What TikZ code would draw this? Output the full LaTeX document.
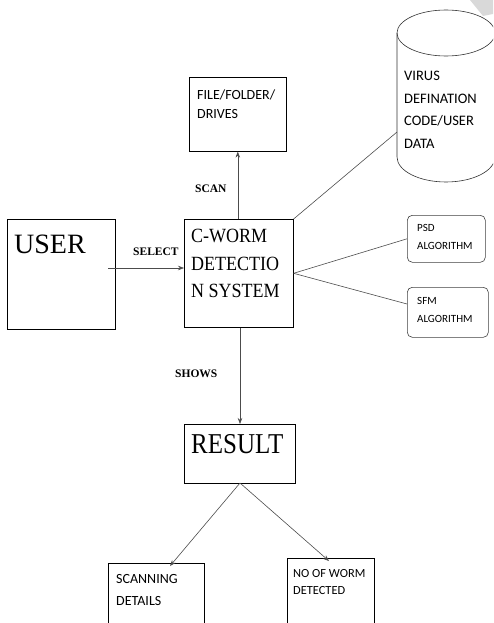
\documentclass[tikz,border=0pt]{standalone}
\usepackage{fontspec}
\setmainfont{Liberation Serif}
\newfontfamily\calfont{Carlito}
\usetikzlibrary{arrows.meta}
\tikzset{
  box/.style={draw=black, line width=0.6pt, rectangle, anchor=north west, inner sep=0pt},
  rbox/.style={box, draw=black!75, rounded corners=5pt},
  conn/.style={draw=black!70, line width=0.6pt},
  arr/.style={conn, -{Stealth[length=6pt,width=4.5pt]}},
  txt/.style={anchor=north west, inner sep=0pt, align=left},
  lbl/.style={anchor=base west, inner sep=0pt, font=\fontsize{11.5}{13}\selectfont\bfseries},
}
\begin{document}
\begin{tikzpicture}[x=1pt,y=-1pt]
\useasboundingbox (0,0) rectangle (493,623);
\clip (0,0) rectangle (493,623);
% corner artifact
\fill[black!15] (470,0) -- (493,0) -- (493,14) -- (483,16) -- cycle;
% cylinder
\draw[line width=0.6pt, black!80] (397,33) -- (397,157) arc[start angle=180, end angle=0, x radius=49, y radius=25] -- (495,33);
\draw[line width=0.6pt, black!80] (446,33) ellipse[x radius=49, y radius=23];
\coordinate (cyl) at (397,132);
% boxes
\node[box, minimum width=97pt, minimum height=74pt] (file) at (189,77) {};
\node[box, minimum width=108pt, minimum height=110pt] (user) at (7,219) {};
\node[box, minimum width=109pt, minimum height=108pt] (cworm) at (184,219) {};
\node[rbox, minimum width=78pt, minimum height=47pt] (psd) at (407,215) {};
\node[rbox, minimum width=81pt, minimum height=50pt] (sfm) at (407,287) {};
\node[box, minimum width=111pt, minimum height=59pt] (result) at (184,424) {};
\node[box, minimum width=96pt, minimum height=80pt] (scan) at (108,563) {};
\node[box, minimum width=87pt, minimum height=80pt] (worm) at (287,558) {};
% texts
\node[txt, font=\calfont\fontsize{14}{19}\selectfont] (filet) at (197,90) {FILE/FOLDER/\\DRIVES};
\node[txt, font=\calfont\fontsize{14.5}{22.5}\selectfont] (cylt) at (404,71) {VIRUS\\DEFINATION\\CODE/USER\\DATA};
\node[anchor=base west, inner sep=0pt, font=\fontsize{28}{30}\selectfont] (usert) at (14,253) {USER};
\node[txt, font=\fontsize{18}{27.5}\selectfont] (cwormt) at (191,229) {\scalebox{1}[1.12]{C-WORM}\\\scalebox{1}[1.12]{DETECTIO}\\\scalebox{1}[1.12]{N SYSTEM}};
\node[txt, font=\calfont\fontsize{11}{18}\selectfont] (psdt) at (417,224) {PSD\\ALGORITHM};
\node[txt, font=\calfont\fontsize{11}{18}\selectfont] (sfmt) at (417,297) {SFM\\ALGORITHM};
\node[anchor=base west, inner sep=0pt, font=\fontsize{25}{30}\selectfont] (resultt) at (191,453) {\scalebox{1}[1.15]{RESULT}};
\node[txt, font=\calfont\fontsize{14}{22}\selectfont] (scant) at (116,574) {SCANNING\\DETAILS};
\node[txt, font=\calfont\fontsize{12.4}{17}\selectfont] (wormt) at (293,569) {NO OF WORM\\DETECTED};
% labels
\node[lbl] (scanl) at (195,192) {SCAN};
\node[lbl] (selectl) at (133,255) {SELECT};
\node[lbl] (showsl) at (175,377) {SHOWS};
% connectors
\draw[arr] (cworm.north -| file.south) -- (file.south);
\draw[arr] (108,268) coordinate (userout) -- (userout -| cworm.west);
\draw[conn] (cworm.north east) -- (cyl);
\coordinate (cwr) at (cworm.east);
\draw[conn] (cwr) -- (psd.west);
\draw[conn] (cwr) -- (sfm.west |- 0,304);
\draw[arr] (cworm.south -| 240,0) -- (result.north -| 240,0);
\coordinate (rb) at (240,483);
\draw[arr] (rb) -- (170,566);
\draw[arr] (rb) -- (329,561);
\end{tikzpicture}
\end{document}
